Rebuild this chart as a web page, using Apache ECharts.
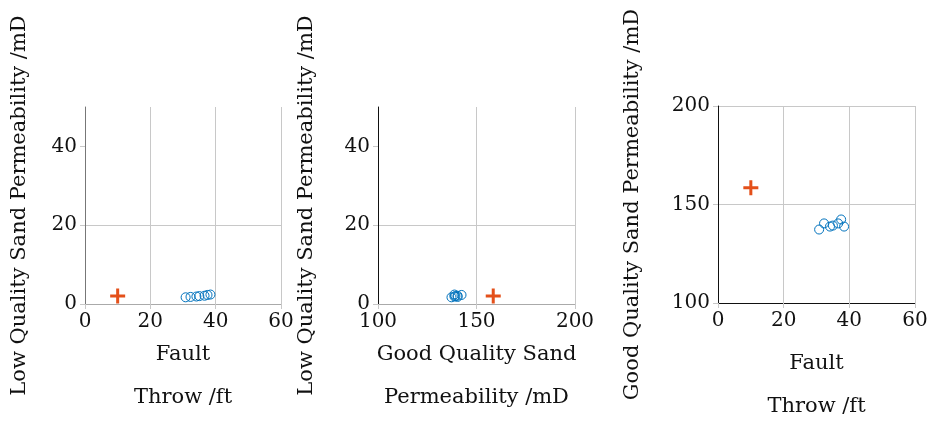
<!DOCTYPE html>
<html>
<head>
<meta charset="utf-8">
<script src="https://cdn.jsdelivr.net/npm/echarts@6/dist/echarts.min.js"></script>
<style>html,body{margin:0;padding:0;background:#fff;}#c{width:932px;height:424px;}</style>
</head>
<body>
<div id="c"></div>
<script>
// Data
const faultThrow = [30.8, 32.3, 34.1, 35.0, 36.6, 37.5, 38.4];
const lowPerm    = [1.7, 1.8, 1.9, 2.0, 2.1, 2.3, 2.4];
const goodPerm   = [137.3, 140.4, 138.8, 139.3, 140.4, 142.4, 138.8];
const refFault = [10];
const refLow   = [2.0];
const refGood  = [158.5];
const lowTicks = [0, 20, 40];

const FONT = 'DejaVu Serif';
const FS = 20;
const NFS = 21;
const BLUE = '#0072BD';
const ORANGE = '#E4501A';
const GRID = '#c8c8c8';
const PLUS = 'path://M4,0h2v4h4v2h-4v4h-2v-4h-4v-2h4z';

function zip(a, b) { return a.map((v, i) => [v, b[i]]); }

function axis(opts) {
  const o = {
    type: 'value', gridIndex: opts.g, min: opts.min, max: opts.max, interval: opts.interval,
    name: opts.name, nameLocation: 'middle', nameGap: opts.gap,
    nameTextStyle: { fontFamily: FONT, fontSize: NFS, color: '#111', lineHeight: opts.lh || NFS },
    nameRotate: opts.rot,
    axisLine: { show: true, onZero: false, lineStyle: { color: opts.lineColor, width: 1 } },
    axisTick: { show: true, inside: false, length: 5, lineStyle: { color: GRID } },
    axisLabel: { fontFamily: FONT, fontSize: FS, color: '#111', margin: 8 },
    splitLine: { show: true, lineStyle: { color: GRID, width: 1 } }
  };
  if (opts.custom) {
    o.axisLabel.customValues = opts.custom;
    o.axisTick.customValues = opts.custom;
    o.splitLine.showMaxLine = false;
  }
  return o;
}

const circleStyle = { color: 'rgba(0,0,0,0)', borderColor: BLUE, borderWidth: 1, opacity: 1 };
const plusStyle = { color: ORANGE, opacity: 1 };

const chart = echarts.init(document.getElementById('c'), null, { renderer: 'canvas' });
chart.setOption({
  animation: false,
  backgroundColor: '#fff',
  grid: [
    { left: 85, top: 107, width: 196, height: 197, outerBoundsMode: 'none', containLabel: false },
    { left: 378, top: 107, width: 197, height: 197, outerBoundsMode: 'none', containLabel: false },
    { left: 718, top: 106, width: 197, height: 197, outerBoundsMode: 'none', containLabel: false }
  ],
  xAxis: [
    axis({ g: 0, min: 0, max: 60, interval: 20, name: 'Fault\nThrow /ft', gap: 29, lh: 43, lineColor: '#aaa' }),
    axis({ g: 1, min: 100, max: 200, interval: 50, name: 'Good Quality Sand\nPermeability /mD', gap: 29, lh: 43, lineColor: '#aaa' }),
    axis({ g: 2, min: 0, max: 60, interval: 20, name: 'Fault\nThrow /ft', gap: 39, lh: 43, lineColor: '#111' })
  ],
  yAxis: [
    axis({ g: 0, min: 0, max: 50, interval: 10, name: 'Low Quality Sand Permeability /mD', gap: 55, rot: 90, lineColor: '#777', custom: lowTicks }),
    axis({ g: 1, min: 0, max: 50, interval: 10, name: 'Low Quality Sand Permeability /mD', gap: 61, rot: 90, lineColor: '#111', custom: lowTicks }),
    axis({ g: 2, min: 100, max: 200, interval: 50, name: 'Good Quality Sand Permeability /mD', gap: 75, rot: 90, lineColor: '#111' })
  ],
  series: [
    { type: 'scatter', xAxisIndex: 0, yAxisIndex: 0, data: zip(faultThrow, lowPerm), symbol: 'circle', symbolSize: 9, itemStyle: circleStyle },
    { type: 'scatter', xAxisIndex: 0, yAxisIndex: 0, data: zip(refFault, refLow), symbol: PLUS, symbolSize: 15, itemStyle: plusStyle },
    { type: 'scatter', xAxisIndex: 1, yAxisIndex: 1, data: zip(goodPerm, lowPerm), symbol: 'circle', symbolSize: 9, itemStyle: circleStyle },
    { type: 'scatter', xAxisIndex: 1, yAxisIndex: 1, data: zip(refGood, refLow), symbol: PLUS, symbolSize: 15, itemStyle: plusStyle },
    { type: 'scatter', xAxisIndex: 2, yAxisIndex: 2, data: zip(faultThrow, goodPerm), symbol: 'circle', symbolSize: 9, itemStyle: circleStyle },
    { type: 'scatter', xAxisIndex: 2, yAxisIndex: 2, data: zip(refFault, refGood), symbol: PLUS, symbolSize: 15, itemStyle: plusStyle }
  ]
});
</script>
</body>
</html>
